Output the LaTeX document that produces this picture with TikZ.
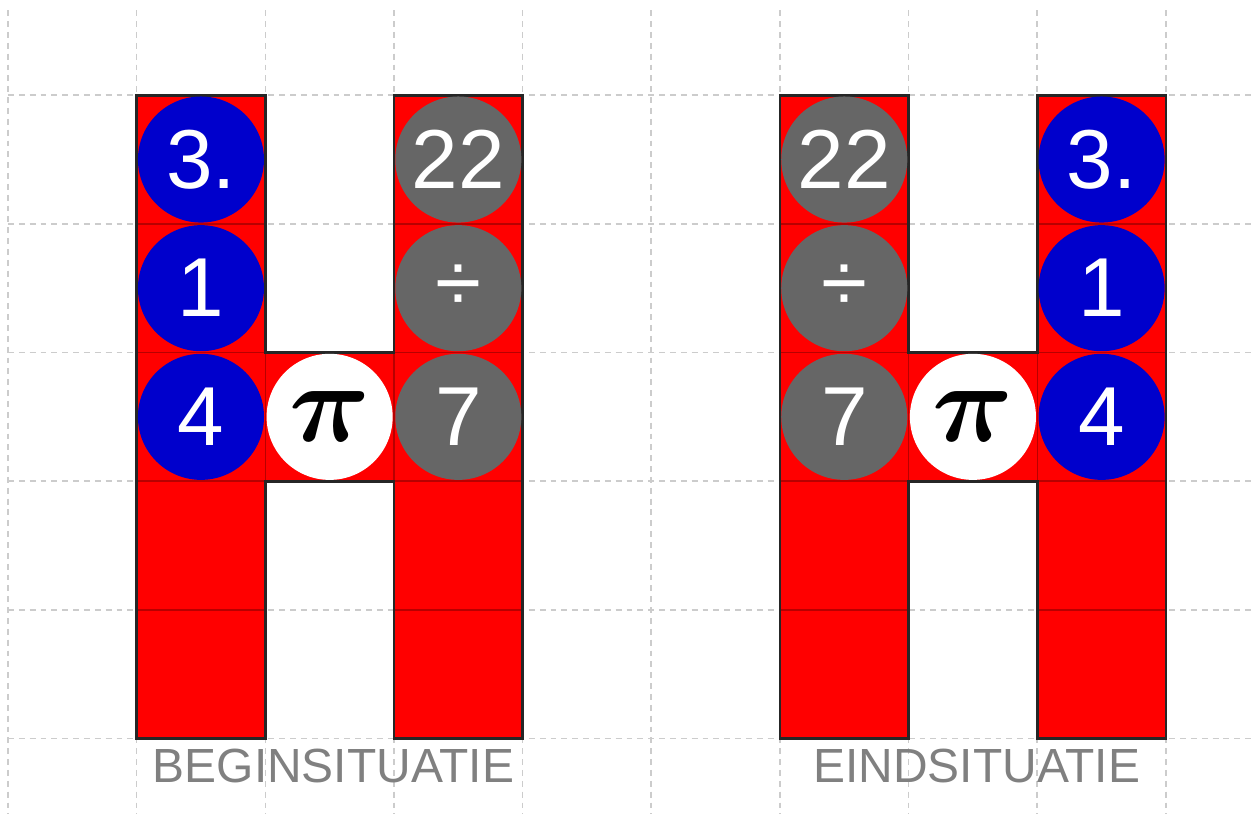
\documentclass[tikz,border=0pt]{standalone}
\usepackage{fontspec}
\setmainfont{Liberation Sans}
\definecolor{hred}{HTML}{FF0000}
\definecolor{hdark}{HTML}{B80000}
\definecolor{bblue}{HTML}{0000CC}
\definecolor{ggray}{HTML}{666666}
\definecolor{gridc}{HTML}{CCCCCC}
\definecolor{lblc}{HTML}{808080}
\tikzset{
  gridline/.style={gridc, line width=0.35pt, dash pattern=on 1.3pt off 1.1pt},
  cell/.style={fill=hred, draw=hdark, line width=0.3pt},
  hout/.style={draw=black!85, line width=0.6pt},
  ball/.style={circle, minimum size=0.98cm, inner sep=0pt, text=white, font=\fontsize{18.5}{20}\selectfont},
  blueball/.style={ball, fill=bblue},
  grayball/.style={ball, fill=ggray},
  piball/.style={circle, minimum size=0.98cm, inner sep=0pt, fill=white, text=black, font=\fontsize{23}{26}\selectfont\boldmath},
  lbl/.style={text=lblc, font=\fontsize{10.6}{12}\selectfont}
}
\begin{document}
\begin{tikzpicture}
\useasboundingbox (-0.062,-0.59) rectangle (9.70,5.74);
\fill[white] (-0.062,-0.59) rectangle (9.70,5.74);
% grid
\foreach \x in {0,...,9} \draw[gridline] (\x,5.66) -- (\x,-0.59);
\foreach \y in {0,...,5} \draw[gridline] (0,\y) -- (9.70,\y);
% H shapes
\foreach \ox in {0,5}{
  \foreach \y in {0,...,4}{
    \draw[cell] (\ox+1,\y) rectangle ++(1,1);
    \draw[cell] (\ox+3,\y) rectangle ++(1,1);
  }
  \draw[cell] (\ox+2,2) rectangle ++(1,1);
  \draw[hout] (\ox+1,0) -- (\ox+1,5) -- (\ox+2,5) -- (\ox+2,3) -- (\ox+3,3) -- (\ox+3,5) -- (\ox+4,5)
    -- (\ox+4,0) -- (\ox+3,0) -- (\ox+3,2) -- (\ox+2,2) -- (\ox+2,0) -- cycle;
}
% left H balls
\node[blueball] (a1) at (1.5,4.5) {3.};
\node[blueball] (a2) at (1.5,3.5) {1};
\node[blueball] (a3) at (1.5,2.5) {4};
\node[piball]   (ap) at (2.5,2.5) {$\pi$};
\node[grayball] (b1) at (3.5,4.5) {22};
\node[grayball] (b2) at (3.5,3.5) {÷};
\node[grayball] (b3) at (3.5,2.5) {7};
% right H balls
\node[grayball] (c1) at (6.5,4.5) {22};
\node[grayball] (c2) at (6.5,3.5) {÷};
\node[grayball] (c3) at (6.5,2.5) {7};
\node[piball]   (cp) at (7.5,2.5) {$\pi$};
\node[blueball] (d1) at (8.5,4.5) {3.};
\node[blueball] (d2) at (8.5,3.5) {1};
\node[blueball] (d3) at (8.5,2.5) {4};
% labels
\node[lbl] (l1) at (2.53,-0.21) {BEGINSITUATIE};
\node[lbl] (l2) at (7.53,-0.21) {EINDSITUATIE};
\end{tikzpicture}
\end{document}
